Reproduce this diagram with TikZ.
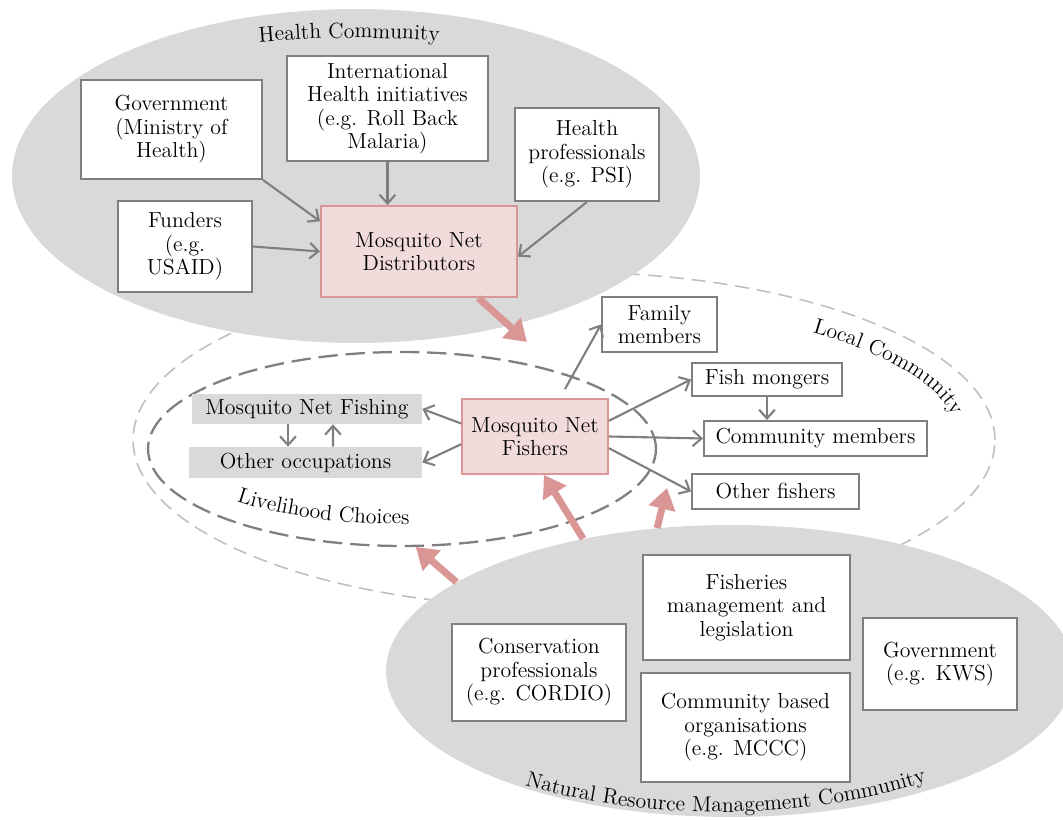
\documentclass[tikz,border=0pt]{standalone}
\usepackage{fontspec}
\usetikzlibrary{shapes.geometric,arrows.meta,decorations.text,calc}

\definecolor{commgray}{HTML}{D9D9D9}
\definecolor{boxgray}{HTML}{7F7F7F}
\definecolor{dashgray}{HTML}{BFBFBF}
\definecolor{netpink}{HTML}{D99694}
\definecolor{netfill}{HTML}{F2DCDB}
\newcommand{\boxfont}{\fontsize{12.4}{13.4}\selectfont}

\tikzset{
  box/.style={draw=boxgray, line width=1.1pt, fill=white, align=center, font=\boxfont, inner sep=0pt},
  netbox/.style={box, draw=netpink, fill=netfill},
  choice/.style={fill=commgray, align=center, font=\boxfont, inner sep=0pt},
  community/.style={ellipse, fill=commgray, inner sep=0pt},
  ring/.style={ellipse, inner sep=0pt},
  flow/.style={draw=boxgray, line width=1.2pt, -{Straight Barb[length=5pt,width=9pt]}},
  push/.style={draw=netpink, line width=4pt, -{Triangle[length=12pt,width=15pt]}},
  ringlabel/.style={decorate, decoration={text along path, text align=left, text={|\boxfont|#1}}}
}

\begin{document}
\begin{tikzpicture}[x=0.02cm,y=-0.02cm]
	\useasboundingbox (0,0) rectangle (1063,820);
	% communities
	\node[ring, draw=dashgray, line width=0.9pt, dash pattern=on 8pt off 4.5pt, minimum width=17.24cm, minimum height=6.72cm] (local) at (564,440) {};
	\node[ring, draw=boxgray, line width=1.3pt, dash pattern=on 11pt off 4.5pt, minimum width=10.16cm, minimum height=3.88cm] (live) at (402,449) {};
	\node[community, minimum width=13.76cm, minimum height=6.68cm] (health) at (356,176) {};
	\node[community, minimum width=13.76cm, minimum height=5.84cm] (nrm) at (730,671) {};
	%
	\path[ringlabel=Health Community] (356,176) ++(-104:400 and 138) arc[start angle=-104, end angle=-60, x radius=400, y radius=138];
	\path[ringlabel=Local Community] (564,440) ++(-51:395 and 138) arc[start angle=-51, end angle=10, x radius=395, y radius=138];
	\path[ringlabel=Livelihood Choices] (402,449) ++(136:230 and 75) arc[start angle=136, end angle=50, x radius=230, y radius=75];
	\path[ringlabel=Natural Resource Management Community] (720,663) ++(125:340 and 149) arc[start angle=125, end angle=25, x radius=340, y radius=149];
	% health community
	\node[box, minimum width=3.62cm, minimum height=1.98cm] (gov) at (171.5,129.5) {Government\\(Ministry of\\Health)};
	\node[box, minimum width=2.68cm, minimum height=1.82cm] (funders) at (185,246.5) {Funders\\(e.g.\\USAID)};
	\node[box, minimum width=4.02cm, minimum height=2.10cm] (intl) at (387.5,108.5) {International\\Health initiatives\\(e.g. Roll Back\\Malaria)};
	\node[box, minimum width=2.88cm, minimum height=1.86cm] (hp) at (587,154.5) {Health\\professionals\\(e.g. PSI)};
	\node[netbox, minimum width=3.92cm, minimum height=1.82cm] (dist) at (419,251.5) {Mosquito Net\\Distributors};
	% local community
	\node[netbox, minimum width=2.92cm, minimum height=1.50cm] (fishers) at (535,436.5) {Mosquito Net\\Fishers};
	\node[choice, minimum width=4.60cm, minimum height=0.60cm] (fishing) at (307,409) {Mosquito Net Fishing};
	\node[choice, minimum width=4.66cm, minimum height=0.62cm] (otherocc) at (305.5,462.5) {Other occupations};
	\node[box, minimum width=2.30cm, minimum height=1.10cm] (family) at (659.5,324.5) {Family\\members};
	\node[box, minimum width=3.00cm, minimum height=0.66cm] (mongers) at (767,379.5) {Fish mongers};
	\node[box, minimum width=4.46cm, minimum height=0.70cm] (members) at (815.5,438.5) {Community members};
	\node[box, minimum width=3.34cm, minimum height=0.70cm] (otherfish) at (775.5,491.5) {Other fishers};
	% natural resource management community
	\node[box, minimum width=3.48cm, minimum height=1.94cm] (cons) at (539,672.5) {Conservation\\professionals\\(e.g. CORDIO)};
	\node[box, minimum width=4.14cm, minimum height=2.10cm] (fmgmt) at (746.5,607.5) {Fisheries\\management and\\legislation};
	\node[box, minimum width=4.18cm, minimum height=2.18cm] (cbo) at (745.5,727.5) {Community based\\organisations\\(e.g. MCCC)};
	\node[box, minimum width=3.08cm, minimum height=1.84cm] (kws) at (940,664) {Government\\(e.g. KWS)};
	%
	\coordinate (netsout) at (527,342);
	\coordinate (nrmout) at (667,488);
	%
	\draw[flow] (gov.south east) -- (dist.163);
	\draw[flow] (funders.east) -- (dist.west);
	\draw[flow] (intl.south) -- (intl.south |- dist.north);
	\draw[flow] (hp.south) -- (dist.-3);
	\draw[flow] (fishers.170) -- (fishing.east);
	\draw[flow] (fishers.186) -- (otherocc.east);
	\draw[flow] ($(fishing.south)+(-19,0)$) -- ($(otherocc.north)+(-17.5,0)$);
	\draw[flow] ($(otherocc.north)+(27.5,0)$) -- ($(fishing.south)+(26,0)$);
	\draw[flow] ($(fishers.north)+(30,-9)$) -- (family.west);
	\draw[flow] (fishers.12) -- (mongers.west);
	\draw[flow] (fishers.east) -- (members.west);
	\draw[flow] (fishers.-9) -- (otherfish.west);
	\draw[flow] (mongers.south) -- (mongers.south |- members.north);
	%
	\draw[push] (dist.-38) -- (netsout);
	\draw[push] (nrm.162) -- (live.-82);
	\draw[push] (nrm.138) -- (fishers.-77);
	\draw[push] (nrm.117) -- (nrmout);
\end{tikzpicture}
\end{document}
